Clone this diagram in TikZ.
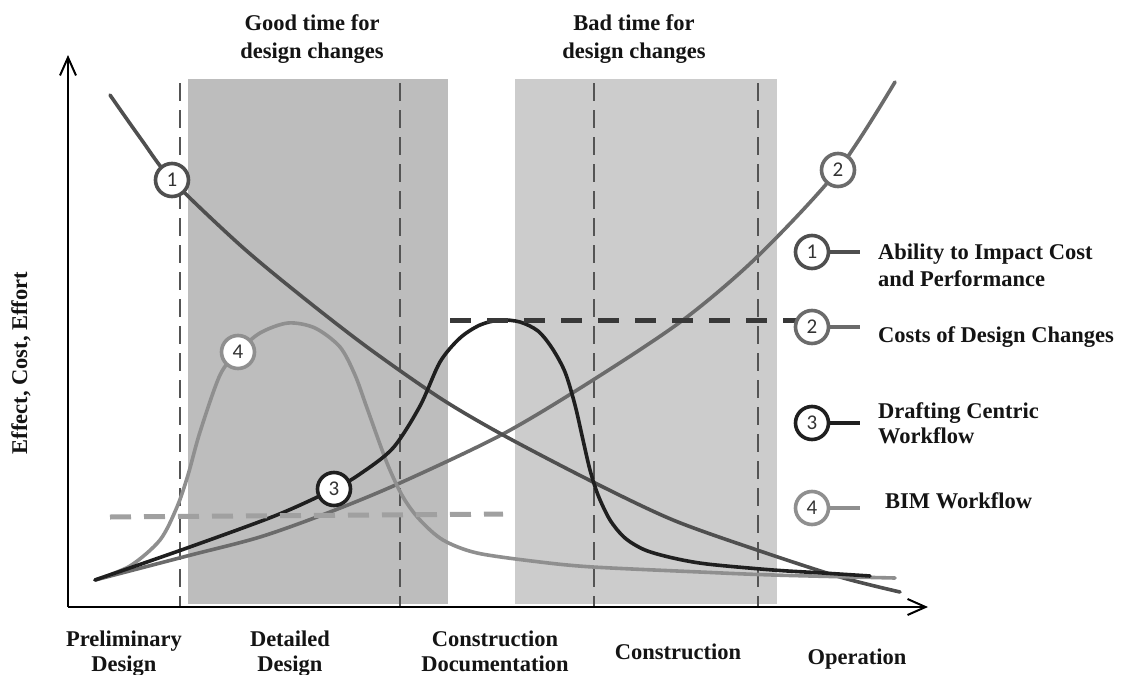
\documentclass[tikz,border=0pt]{standalone}
\usepackage{fontspec}
\setmainfont{Liberation Serif}
\newfontfamily\digitfont{Carlito}
\usetikzlibrary{arrows.meta}

\definecolor{goodzone}{gray}{0.74}
\definecolor{badzone}{gray}{0.80}
\definecolor{cone}{gray}{0.31}
\definecolor{ctwo}{gray}{0.42}
\definecolor{cthree}{gray}{0.12}
\definecolor{cfour}{gray}{0.56}
\definecolor{phase}{gray}{0.33}

\begin{document}
\begin{tikzpicture}[x=1pt,y=-1pt,
  txt/.style={font=\fontsize{22.5}{25}\selectfont\bfseries, inner sep=0pt, text=black!92},
  phaseline/.style={draw=phase, line width=1.4pt, dash pattern=on 18pt off 9pt},
  curve/.style={line width=3.6pt, line cap=round},
  badge/.style={circle, draw=#1, fill=white, line width=3.6pt, minimum size=33pt,
    inner sep=0pt, font=\digitfont\fontsize{21}{21}\selectfont, text=black!80},
  key/.style={line width=4pt},
  axis/.style={line width=2pt, -{Straight Barb[length=18pt,width=16pt]}}]

\useasboundingbox (0,0) rectangle (1125,675);
\fill[white] (0,0) rectangle (1125,675);

% phase zones
\fill[goodzone] (188,79) rectangle (448,604);
\fill[badzone] (515,79) rectangle (777,604);

% phase boundaries
\foreach \px in {180,400,594,758}
  \draw[phaseline] (\px,83) -- (\px,606);

% axes
\coordinate (O) at (68,607);
\coordinate (ytip) at (68,55);
\coordinate (xtip) at (928,607);
\draw[axis] (O) -- (ytip);
\draw[axis] (O) -- (xtip);

% 2: costs of design changes
\draw[curve, ctwo] plot[smooth, tension=0.5] coordinates {(95,580) (187,556) (260,537) (330,512) (400,483) (503,434) (593,380) (683,320) (757,257) (838,170) (895,82)};

% 1: ability to impact cost and performance
\draw[curve, cone] plot[smooth, tension=0.5] coordinates {(110,95) (141,139) (172,180) (240,245) (300,295) (367,347) (440,398) (503,435) (593,482) (673,520) (757,550) (840,577) (900,592)};

% 4: BIM workflow
\draw[curve, cfour] plot[smooth, tension=0.5] coordinates {(95,580) (130,566) (160,540) (177,507) (188,475) (200,432) (220,375) (238,352) (260,333) (288,323) (315,328) (340,347) (355,375) (367,408) (387,463) (403,497) (420,520) (443,540) (477,553) (540,562) (593,567) (700,572) (773,575) (895,578)};

% 3: drafting centric workflow
\draw[curve, cthree] plot[smooth, tension=0.5] coordinates {(95,580) (187,548) (277,515) (334,489) (360,474) (393,448) (420,406) (440,362) (460,338) (480,325) (500,320) (520,322) (538,331) (552,348) (565,372) (575,405) (583,440) (590,470) (598,495) (610,520) (625,538) (645,550) (673,558) (707,564) (773,570) (823,573) (870,576)};

% effort levels
\draw[line width=5pt, draw=black!78, dash pattern=on 21pt off 16pt] (450,320) -- (800,320);
\draw[line width=5pt, draw=cfour!85, dash pattern=on 21pt off 13pt] (110,517) -- (503,514);

% curve badges
\node[badge=cone] (b1) at (172,180) {1};
\node[badge=ctwo] (b2) at (838,170) {2};
\node[badge=cthree] (b3) at (334,489) {3};
\node[badge=cfour] (b4) at (238,352) {4};

% key
\node[badge=cone] (k1) at (812,252) {1};
\coordinate (k1e) at (860,252);
\draw[key, cone] (k1) -- (k1e);
\node[badge=ctwo] (k2) at (812,327) {2};
\coordinate (k2e) at (860,327);
\draw[key, ctwo] (k2) -- (k2e);
\node[badge=cthree] (k3) at (812,423) {3};
\coordinate (k3e) at (860,423);
\draw[key, cthree] (k3) -- (k3e);
\node[badge=cfour] (k4) at (812,508) {4};
\coordinate (k4e) at (860,508);
\draw[key, cfour] (k4) -- (k4e);

\node[txt, anchor=north west, align=left, font=\fontsize{22.5}{27}\selectfont\bfseries] (t1) at (878,244) {Ability to Impact Cost\\and Performance};
\node[txt, anchor=north west] (t2) at (878,326) {Costs of Design Changes};
\node[txt, anchor=north west, align=left] (t3) at (878,402) {Drafting Centric\\Workflow};
\node[txt, anchor=north west] (t4) at (885,492) {BIM Workflow};

% titles
\node[txt, anchor=north, align=center, font=\fontsize{22.5}{28}\selectfont\bfseries] (good) at (312,14) {Good time for\\design changes};
\node[txt, anchor=north, align=center, font=\fontsize{22.5}{28}\selectfont\bfseries] (bad) at (634,14) {Bad time for\\design changes};

% axis labels
\node[txt, rotate=90] (ylab) at (21,363) {Effect, Cost, Effort};
\node[txt, anchor=north, align=center] (p1) at (124,631) {Preliminary\\Design};
\node[txt, anchor=north, align=center] (p2) at (290,631) {Detailed\\Design};
\node[txt, anchor=north, align=center] (p3) at (495,631) {Construction\\Documentation};
\node[txt, anchor=north] (p4) at (678,644) {Construction};
\node[txt, anchor=north] (p5) at (857,649) {Operation};

\end{tikzpicture}
\end{document}
